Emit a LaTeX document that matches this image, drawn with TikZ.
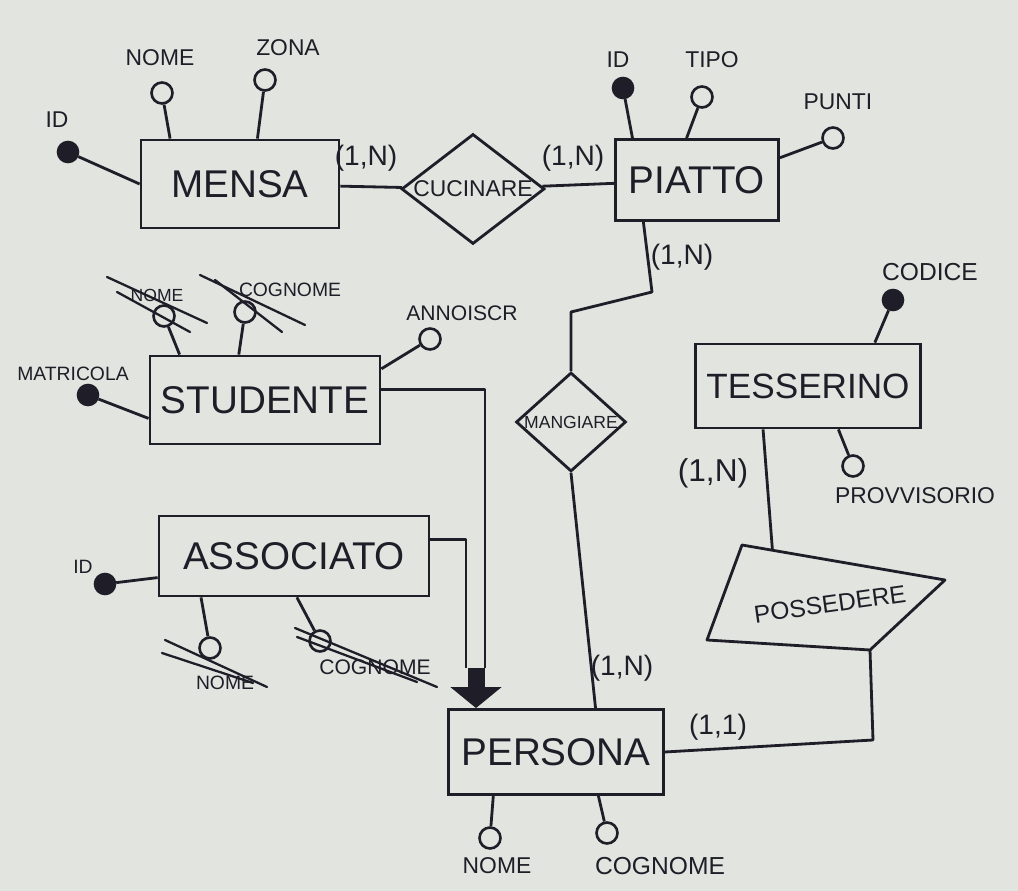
\documentclass[tikz,border=0pt]{standalone}
\usepackage{fontspec}
\setmainfont{Liberation Sans}
\usepackage{xcolor}
\definecolor{inchiostro}{HTML}{1F1D27}
\definecolor{carta}{HTML}{E2E4E0}
\usepackage{tikz}
\usetikzlibrary{arrows.meta, calc, shapes.geometric}
\newcommand{\corpo}[1]{\fontsize{#1}{#1}\selectfont}
\tikzset{
  %% ── Boxes ────────────────────────────────────────────────────────────
  %% Entities are plain boxes, relationships diamonds; the text is set
  %% apart from the diamond so it may run right up to the corners.
  entita/.style       = {draw=inchiostro, line width=1.6pt, text=inchiostro,
                         inner sep=0pt, font=\corpo{22}},
  relazione/.style    = {shape=diamond, draw=inchiostro, line width=1.6pt,
                         inner sep=0pt},
  testoRel/.style     = {text=inchiostro, inner sep=0pt},
  %%
  %% ── Attributes ───────────────────────────────────────────────────────
  attributo/.style    = {circle, draw=inchiostro, line width=1.5pt, fill=carta,
                         minimum size=0.42cm, inner sep=0pt},
  chiave/.style       = {attributo, fill=inchiostro, minimum size=0.4cm},
  nomeAttr/.style     = {text=inchiostro, inner sep=1pt, font=\corpo{13}},
  nomePiccolo/.style  = {nomeAttr, font=\corpo{11}},
  cardinalita/.style  = {text=inchiostro, inner sep=1pt, font=\corpo{16}},
  %%
  %% ── Lines ────────────────────────────────────────────────────────────
  collegamento/.style = {draw=inchiostro, line width=1.6pt, line join=round},
  barrato/.style      = {draw=inchiostro, line width=1.3pt, line cap=round},
  isa/.style          = {draw=inchiostro, line width=0.34cm,
                         -{Triangle[length=0.42cm, width=1.0cm]}},
}

\begin{document}
\begin{tikzpicture}[x=0.02cm, y=-0.02cm, color=inchiostro]

\fill[carta] (0,0) rectangle (1018,891);
\useasboundingbox (0,0) rectangle (1018,891);

%% entities
\node[entita, minimum width=3.96cm, minimum height=1.76cm] (mensa) at (240,184) {MENSA};
\node[entita, minimum width=3.26cm, minimum height=1.62cm] (piatto) at (697,180) {PIATTO};
\node[entita, minimum width=4.6cm, minimum height=1.76cm] (studente) at (265,400) {STUDENTE};
\node[entita, minimum width=5.4cm, minimum height=1.6cm] (associato) at (294,556) {ASSOCIATO};
\node[entita, minimum width=4.5cm, minimum height=1.68cm, font=\corpo{20}] (tesserino) at (808,386) {TESSERINO};
\node[entita, minimum width=4.3cm, minimum height=1.7cm] (persona) at (556,752) {PERSONA};

%% relationships
\node[relazione, minimum width=2.86cm, minimum height=2.2cm,
      label={[testoRel, font=\corpo{13}]center:CUCINARE}] (cucinare) at (473,189) {};
\node[relazione, minimum width=2.2cm, minimum height=1.98cm,
      label={[testoRel, font=\corpo{10}]center:MANGIARE}] (mangiare) at (571,422) {};

\coordinate (possNO) at (742,545);
\coordinate (possNE) at (945,580);
\coordinate (possSE) at (870,650);
\coordinate (possSO) at (707,640);
\draw[collegamento] (possNO) -- (possNE) -- (possSE) -- (possSO) -- cycle;
\node[testoRel, font=\corpo{14}, rotate=8] (possedere) at (830,604) {POSSEDERE};

%% attributes of MENSA
\node[chiave] (mensaId) at (68,152) {};
\node[nomeAttr] (mensaIdT) at (57,120) {ID};
\node[attributo] (mensaNome) at (162,93) {};
\node[nomeAttr] (mensaNomeT) at (160,58) {NOME};
\node[attributo] (mensaZona) at (265,80) {};
\node[nomeAttr] (mensaZonaT) at (288,48) {ZONA};
\draw[collegamento] (mensaId) -- (mensa.west);
\draw[collegamento] (mensaNome) -- (mensa.147);
\draw[collegamento] (mensaZona) -- (mensa.69);

%% attributes of PIATTO
\node[chiave] (piattoId) at (623,88) {};
\node[nomeAttr] (piattoIdT) at (618,60) {ID};
\node[attributo] (piattoTipo) at (702,97) {};
\node[nomeAttr] (piattoTipoT) at (712,60) {TIPO};
\node[attributo] (piattoPunti) at (833,138) {};
\node[nomeAttr] (piattoPuntiT) at (838,102) {PUNTI};
\draw[collegamento] (piattoId) -- (piatto.147);
\draw[collegamento] (piattoTipo) -- (piatto.104);
\draw[collegamento] (piattoPunti) -- (piatto.15);

%% attributes of STUDENTE
\node[chiave] (studenteMatr) at (88,395) {};
\node[nomePiccolo] (studenteMatrT) at (73,374) {MATRICOLA};
\node[attributo] (studenteNome) at (164,316) {};
\node[nomePiccolo, font=\corpo{10}] (studenteNomeT) at (157,295) {NOME};
\node[attributo] (studenteCognome) at (245,312) {};
\node[nomePiccolo] (studenteCognomeT) at (290,290) {COGNOME};
\node[attributo] (studenteAnno) at (430,339) {};
\node[nomePiccolo, font=\corpo{12}] (studenteAnnoT) at (462,313) {ANNOISCR};
\draw[collegamento] (studenteMatr) -- (studente.189);
\draw[collegamento] (studenteNome) -- (studente.152);
\draw[collegamento] (studenteCognome) -- (studente.120);
\draw[collegamento] (studenteAnno) -- (studente.15);
\draw[barrato] ($(studenteNome)+(-57,-39)$) -- ++(100,46);
\draw[barrato] ($(studenteNome)+(-47,-24)$) -- ++(73,40);
\draw[barrato] ($(studenteCognome)+(-45,-37)$) -- ++(105,50);
\draw[barrato] ($(studenteCognome)+(-30,-32)$) -- ++(67,52);

%% attributes of ASSOCIATO
\node[chiave] (associatoId) at (105,584) {};
\node[nomePiccolo] (associatoIdT) at (83,567) {ID};
\node[attributo] (associatoNome) at (210,648) {};
\node[nomePiccolo] (associatoNomeT) at (225,683) {NOME};
\node[attributo] (associatoCognome) at (320,641) {};
\node[nomePiccolo, font=\corpo{12}] (associatoCognomeT) at (375,667) {COGNOME};
\draw[collegamento] (associatoId) -- (associato.189);
\draw[collegamento] (associatoNome) -- (associato.204);
\draw[collegamento] (associatoCognome) -- (associato.274);
\draw[barrato] ($(associatoNome)+(-45,-8)$) -- ++(102,47);
\draw[barrato] ($(associatoNome)+(-48,5)$) -- ++(91,30);
\draw[barrato] ($(associatoCognome)+(-25,-13)$) -- ++(142,59);
\draw[barrato] ($(associatoCognome)+(-23,-4)$) -- ++(120,45);

%% attributes of TESSERINO
\node[chiave] (tesserinoCodice) at (893,300) {};
\node[nomeAttr, font=\corpo{14}] (tesserinoCodiceT) at (930,272) {CODICE};
\node[attributo] (tesserinoProvv) at (853,466) {};
\node[nomeAttr] (tesserinoProvvT) at (915,496) {PROVVISORIO};
\draw[collegamento] (tesserinoCodice) -- (tesserino.33);
\draw[collegamento] (tesserinoProvv) -- (tesserino.305);

%% attributes of PERSONA
\node[attributo] (personaNome) at (490,838) {};
\node[nomeAttr] (personaNomeT) at (497,866) {NOME};
\node[attributo] (personaCognome) at (607,833) {};
\node[nomeAttr, font=\corpo{14}] (personaCognomeT) at (660,866) {COGNOME};
\draw[collegamento] (personaNome) -- (persona.215);
\draw[collegamento] (personaCognome) -- (persona.314);

%% relationship links
\draw[collegamento] (mensa) -- (cucinare);
\draw[collegamento] (cucinare) -- (piatto);
\draw[collegamento] (piatto.218) -- (652,292) -- (571,312) -- (mangiare.north);
\draw[collegamento] (mangiare.south) -- (persona.48);
\draw[collegamento] (tesserino.224) -- ($(possNO)!0.15!(possNE)$);
\draw[collegamento] (possSE) -- (873,740) -- (persona.east);

%% generalisation
\coordinate (isaDx) at (485,668);
\coordinate (isaSx) at (466,668);
\coordinate (isaPunta) at (476,668);
\draw[collegamento] (studente.5) -| (isaDx);
\draw[collegamento] (associato.7) -| (isaSx);
\draw[isa] (isaPunta) -- (isaPunta |- persona.north);

%% cardinalities
\node[cardinalita] (cardMensa) at (366,158) {(1,N)};
\node[cardinalita] (cardPiattoC) at (573,158) {(1,N)};
\node[cardinalita] (cardPiattoM) at (682,257) {(1,N)};
\node[cardinalita, font=\corpo{18}] (cardTesserino) at (713,473) {(1,N)};
\node[cardinalita] (cardPersonaM) at (622,668) {(1,N)};
\node[cardinalita] (cardPersonaP) at (718,727) {(1,1)};

\end{tikzpicture}
\end{document}
